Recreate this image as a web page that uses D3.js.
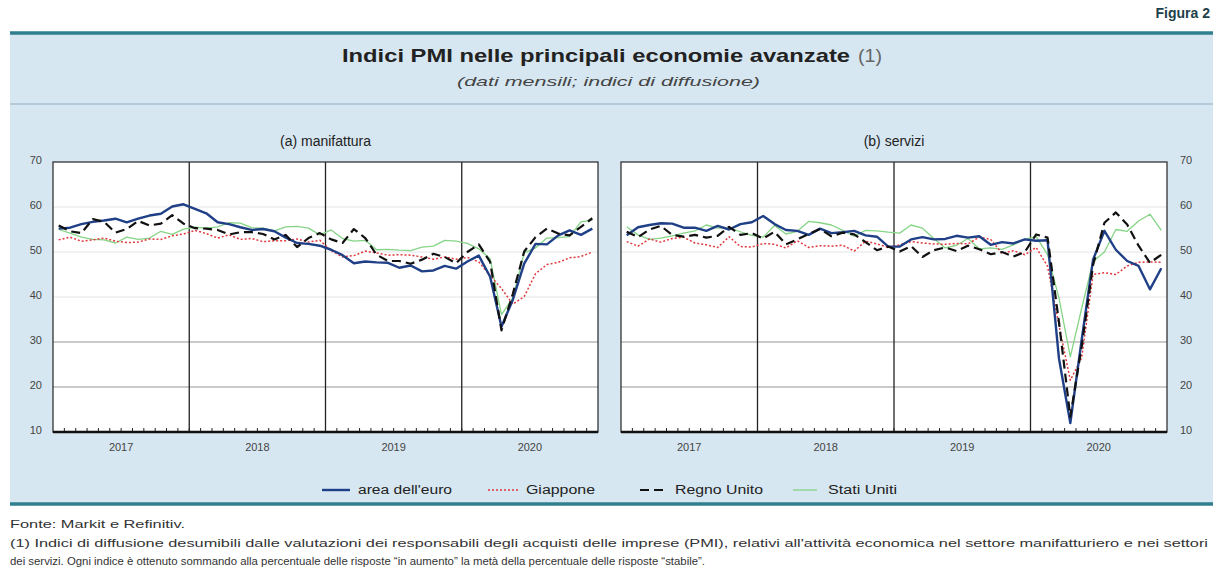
<!DOCTYPE html>
<html><head><meta charset="utf-8">
<script src="https://cdn.jsdelivr.net/npm/d3@7"></script>
<style>body{margin:0;background:#fff}svg{display:block}text{font-family:"Liberation Sans",Arial,sans-serif}</style>
</head><body><svg id="c" width="1213" height="578"></svg>
<script>
const years = ["2017","2018","2019","2020"];
const yTicks = [10,20,30,40,50,60,70];
const seriesNames = ["area dell'euro","Giappone","Regno Unito","Stati Uniti"];
// Manufacturing PMI, Jan 2017 - Dec 2020
const manEuro = [55.2,55.4,56.2,56.7,57.0,57.4,56.6,57.4,58.1,58.5,60.1,60.6, 59.6,58.6,56.6,56.2,55.5,54.9,55.1,54.6,53.2,52.0,51.8,51.4, 50.5,49.3,47.5,47.9,47.7,47.6,46.5,47.0,45.7,45.9,46.9,46.3, 47.9,49.2,44.5,33.4,39.4,47.4,51.8,51.7,53.7,54.8,53.8,55.2];
const manJapan = [52.7,53.3,52.4,52.7,53.1,52.4,52.1,52.2,52.9,52.8,53.6,54.0, 54.8,54.1,53.1,53.8,52.8,53.0,52.3,52.5,52.5,52.9,52.2,52.6, 50.3,48.9,49.2,50.2,49.8,49.3,49.4,49.3,48.9,48.4,48.9,48.4, 48.8,47.8,44.8,41.9,38.4,40.1,45.2,47.2,47.7,48.7,49.0,50.0];
const manUK = [55.9,54.6,54.2,57.3,56.7,54.3,55.1,56.9,55.9,56.3,58.2,56.3, 55.3,55.2,54.9,53.9,54.4,54.4,54.0,52.8,53.8,51.1,53.1,54.2, 52.8,52.0,55.1,53.1,49.4,48.0,48.0,47.4,48.3,49.6,48.9,47.5, 50.0,51.7,47.8,32.6,40.7,50.1,53.3,55.2,54.1,53.7,55.6,57.5];
const manUS = [55.0,54.2,53.3,52.8,52.7,52.0,53.3,52.8,53.1,54.6,53.9,55.1, 55.5,55.3,55.6,56.5,56.4,55.4,55.3,54.7,55.6,55.7,55.3,53.8, 54.9,53.0,52.4,52.6,50.5,50.6,50.4,50.3,51.1,51.3,52.6,52.4, 51.9,50.7,48.5,36.1,39.8,49.8,50.9,53.1,53.2,53.4,56.7,57.1];
// Services PMI, Jan 2017 - Dec 2020
const serEuro = [53.7,55.5,56.0,56.4,56.3,55.4,55.4,54.7,55.8,55.0,56.2,56.6, 58.0,56.2,54.9,54.7,53.8,55.2,54.2,54.4,54.7,53.7,53.4,51.2, 51.2,52.8,53.3,52.8,52.9,53.6,53.2,53.5,51.6,52.2,51.9,52.8, 52.5,52.6,26.4,12.0,30.5,48.3,54.7,50.5,48.0,46.9,41.7,46.4];
const serJapan = [52.3,51.3,52.9,52.2,53.0,53.3,52.0,51.6,51.0,53.4,51.2,51.1, 51.9,51.7,50.9,52.5,51.0,51.4,51.3,51.5,50.2,52.4,51.8,51.0, 51.6,52.3,52.0,51.8,51.7,51.9,51.8,53.3,52.8,49.7,50.3,49.4, 51.0,46.8,33.8,21.5,26.5,45.0,45.4,45.0,46.9,47.7,47.8,47.7];
const serUK = [54.5,53.3,55.0,55.8,53.8,53.4,53.8,53.2,53.6,55.6,53.8,54.2, 53.0,54.5,51.7,52.8,54.0,55.1,53.5,54.3,53.9,52.2,50.4,51.2, 50.1,51.3,48.9,50.4,51.0,50.2,51.4,50.6,49.5,50.0,49.0,50.0, 53.9,53.2,34.5,13.4,29.0,47.1,56.5,58.8,56.1,51.4,47.6,49.4];
const serUS = [55.6,53.8,52.8,53.1,53.6,54.2,54.7,56.0,55.3,55.3,54.5,53.7, 53.3,55.9,54.0,54.6,56.8,56.5,56.0,54.8,53.5,54.8,54.7,54.4, 54.2,56.0,55.3,53.0,50.9,51.5,53.0,50.7,50.9,50.6,51.6,52.8, 53.4,49.4,39.8,26.7,37.5,47.9,50.0,55.0,54.6,56.9,58.4,54.8];

const svg = d3.select("#c");
const TEAL = "#2f7f8f";
// background panel
svg.append("rect").attr("x",10).attr("y",34).attr("width",1203).attr("height",470).attr("fill","#d7e7f1");
svg.append("line").attr("x1",10).attr("x2",1213).attr("y1",33).attr("y2",33).attr("stroke",TEAL).attr("stroke-width",3.5);
svg.append("line").attr("x1",10).attr("x2",1213).attr("y1",504).attr("y2",504).attr("stroke",TEAL).attr("stroke-width",3.5);
svg.append("line").attr("x1",10).attr("x2",1213).attr("y1",104).attr("y2",104).attr("stroke","#b4cad8").attr("stroke-width",2);
svg.append("text").attr("x",1210).attr("y",18).attr("text-anchor","end").attr("font-weight","bold").attr("font-size",14).attr("fill","#1d3f4a").text("Figura 2");
svg.append("text").attr("x",342).attr("y",62).attr("font-size",19).attr("font-weight","bold").attr("fill","#222")
  .attr("textLength",508).attr("lengthAdjust","spacingAndGlyphs").text("Indici PMI nelle principali economie avanzate");
svg.append("text").attr("x",858).attr("y",62).attr("font-size",19).attr("fill","#666")
  .attr("textLength",24).attr("lengthAdjust","spacingAndGlyphs").text("(1)");
svg.append("text").attr("x",457).attr("y",86).attr("font-size",13.5).attr("font-style","italic").attr("fill","#444")
  .attr("textLength",303).attr("lengthAdjust","spacingAndGlyphs").text("(dati mensili; indici di diffusione)");

const y = d3.scaleLinear().domain([10,70]).range([432,162]);
const styles = [
  {color:"#1f3f86", width:2.4, dash:null},
  {color:"#e0393e", width:1.5, dash:"2,2"},
  {color:"#111", width:2.2, dash:"9,5"},
  {color:"#86d486", width:1.3, dash:null}
];
const order = [3,1,0,2];

function panel(x0, x1, title, data, axisSide){
  const x = d3.scaleLinear().domain([0,48]).range([x0,x1]);
  const g = svg.append("g");
  g.append("rect").attr("x",x0).attr("y",162).attr("width",x1-x0).attr("height",270).attr("fill","#fff");
  // grid
  g.selectAll(".gr").data(yTicks.filter(v=>v>10&&v<70)).enter().append("line")
    .attr("x1",x0).attr("x2",x1).attr("y1",d=>y(d)).attr("y2",d=>y(d))
    .attr("stroke",d=>(d<=30?"#b8b8b8":"#e4e4e4")).attr("stroke-width",d=>(d<=30?1.5:1));
  // year separators
  g.selectAll(".ys").data([12,24,36]).enter().append("line")
    .attr("x1",d=>x(d)).attr("x2",d=>x(d)).attr("y1",162).attr("y2",432).attr("stroke","#222").attr("stroke-width",1.3);
  g.append("rect").attr("x",x0).attr("y",162).attr("width",x1-x0).attr("height",270).attr("fill","none").attr("stroke","#333").attr("stroke-width",1.3);
  // monthly ticks
  g.selectAll(".mt").data(d3.range(1,48)).enter().append("line")
    .attr("x1",d=>x(d)).attr("x2",d=>x(d)).attr("y1",432).attr("y2",428).attr("stroke","#222").attr("stroke-width",1);
  g.append("line").attr("x1",x0).attr("x2",x1).attr("y1",432).attr("y2",432).attr("stroke","#111").attr("stroke-width",2.5);
  // year labels
  g.selectAll(".yl").data(years).enter().append("text")
    .attr("x",(d,i)=>x(i*12+6)).attr("y",451).attr("text-anchor","middle").attr("font-size",11).attr("fill","#444").text(d=>d);
  // y labels
  g.selectAll(".yt").data(yTicks).enter().append("text")
    .attr("x", axisSide==="left"?42:1180).attr("y",d=>y(d)+2).attr("text-anchor",axisSide==="left"?"end":"start")
    .attr("font-size",11).attr("fill","#444").text(d=>d);
  g.append("text").attr("x",(x0+x1)/2).attr("y",146).attr("text-anchor","middle").attr("font-size",14).attr("fill","#222").text(title);
  const line = d3.line().x((d,i)=>x(i+0.5)).y(d=>y(d));
  order.forEach(k=>{
    const s = styles[k];
    g.append("path").attr("d",line(data[k])).attr("fill","none").attr("stroke",s.color)
      .attr("stroke-width",s.width).attr("stroke-dasharray",s.dash).attr("stroke-linejoin","round");
  });
}
panel(53,598,"(a) manifattura",[manEuro,manJapan,manUK,manUS],"left");
panel(621,1167,"(b) servizi",[serEuro,serJapan,serUK,serUS],"right");

// legend
const legX = [322,488,640,793];
const legLen = [28,30,28,24];
const legTxtX = [358,526,675,828];
const legTxtW = [94,69,88,69];
seriesNames.forEach((n,k)=>{
  const s = styles[k];
  svg.append("line").attr("x1",legX[k]).attr("x2",legX[k]+legLen[k]).attr("y1",490).attr("y2",490)
    .attr("stroke",s.color).attr("stroke-width",s.width).attr("stroke-dasharray",s.dash);
  svg.append("text").attr("x",legTxtX[k]).attr("y",494).attr("font-size",12).attr("fill","#222")
    .attr("textLength",legTxtW[k]).attr("lengthAdjust","spacingAndGlyphs").text(n);
});

// footnotes
svg.append("text").attr("x",10).attr("y",528).attr("font-size",11.5).attr("fill","#333")
  .attr("textLength",175).attr("lengthAdjust","spacingAndGlyphs").text("Fonte: Markit e Refinitiv.");
svg.append("text").attr("x",10).attr("y",547).attr("font-size",11.5).attr("fill","#333")
  .attr("textLength",1198).attr("lengthAdjust","spacingAndGlyphs")
  .text("(1) Indici di diffusione desumibili dalle valutazioni dei responsabili degli acquisti delle imprese (PMI), relativi all'attività economica nel settore manifatturiero e nei settori");
svg.append("text").attr("x",10).attr("y",565).attr("font-size",11.5).attr("fill","#333")
  .attr("textLength",695).attr("lengthAdjust","spacingAndGlyphs")
  .text("dei servizi. Ogni indice è ottenuto sommando alla percentuale delle risposte \u201cin aumento\u201d la metà della percentuale delle risposte \u201cstabile\u201d.");
</script></body></html>
